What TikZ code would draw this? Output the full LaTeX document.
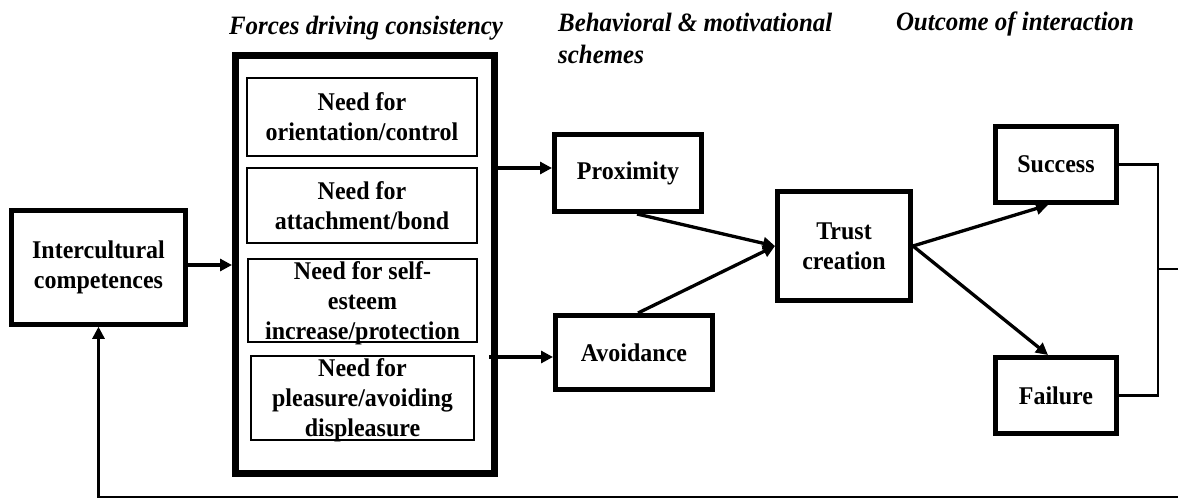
\documentclass[tikz,border=0pt]{standalone}
\usepackage{fontspec}
\setmainfont{Liberation Serif}[FakeStretch=0.94]
\usetikzlibrary{arrows.meta}
\begin{document}
\begin{tikzpicture}[x=1pt,y=-1pt,
  txt/.style={font=\fontsize{25.5}{30}\selectfont\bfseries, align=center, inner sep=0pt},
  box/.style={txt, draw, rectangle, line width=5pt},
  frame/.style={draw, rectangle, line width=7pt, inner sep=0pt},
  need/.style={txt, draw, rectangle, line width=1.8pt},
  heading/.style={font=\fontsize{26.5}{32}\selectfont\bfseries\itshape, inner sep=0pt},
  arr/.style={line width=3.3pt, -{Triangle[length=12pt,width=12pt]}},
  link/.style={line width=2.6pt}
]
\useasboundingbox (0,0) rectangle (1178,500);
\fill[white] (0,0) rectangle (1178,500);

% column headings
\node[heading, anchor=base] (h1) at (366,35) {Forces driving consistency};
\node[heading, anchor=north west, align=left] (h2) at (558,13) {Behavioral \& motivational\\schemes};
\node[heading, anchor=base] (h3) at (1015,31) {Outcome of interaction};

% left input
\node[box, minimum width=173.5pt, minimum height=113.5pt] (inter) at (98.5,267.5) {Intercultural\\competences};

% forces frame and its four needs
\node[frame, minimum width=259pt, minimum height=418pt] (forces) at (365,264.5) {};
\node[need, minimum width=230pt, minimum height=78pt] (n1) at (362,117) {Need for\\orientation/control};
\node[need, minimum width=230pt, minimum height=75pt] (n2) at (362,205.5) {Need for\\attachment/bond};
\node[need, text depth=0pt, minimum width=229pt, minimum height=83pt] (n3) at (362.5,300.5) {Need for self-\\esteem\\increase/protection};
\node[need, text depth=0pt, minimum width=223pt, minimum height=84pt] (n4) at (362.5,398) {Need for\\pleasure/avoiding\\displeasure};

% behavioural schemes
\node[box, minimum width=147pt, minimum height=77pt] (prox) at (628,173) {Proximity};
\node[box, minimum width=157pt, minimum height=74pt] (avoid) at (634,352.5) {Avoidance};

% trust and outcomes
\node[box, minimum width=133pt, minimum height=109pt] (trust) at (844,246) {Trust\\creation};
\node[box, minimum width=121pt, minimum height=76pt] (succ) at (1056,164.5) {Success};
\node[box, minimum width=121pt, minimum height=76pt] (fail) at (1056,395.5) {Failure};

% helper points
\coordinate (pin) at ([yshift=5pt]prox.west);
\coordinate (ain) at ([yshift=-4.5pt]avoid.west);
\coordinate (rx) at (1158,269);
\coordinate (redge) at (1178,269);
\coordinate (bedge) at (1178,497);

% connectors
\draw[arr] ([yshift=2.5pt]inter.east) -- ([yshift=2.5pt]inter.east -| forces.west);
\draw[arr] (forces.east |- pin) -- (pin);
\draw[arr] ([xshift=-9pt]forces.east |- ain) -- (ain);
\draw[arr] ([xshift=9pt]prox.south) -- (trust.west);
\draw[arr] ([xshift=4pt]avoid.north) -- (trust.west);
\draw[arr] (trust.east) -- ([xshift=-8pt]succ.south);
\draw[arr] (trust.east) -- ([xshift=-8pt]fail.north);
\draw[link] (succ.east) -| (rx) |- (fail.east);
\draw[link] (rx) -- (redge);
\draw[arr, line width=2.6pt] (bedge) -| (inter.south);
\end{tikzpicture}
\end{document}
